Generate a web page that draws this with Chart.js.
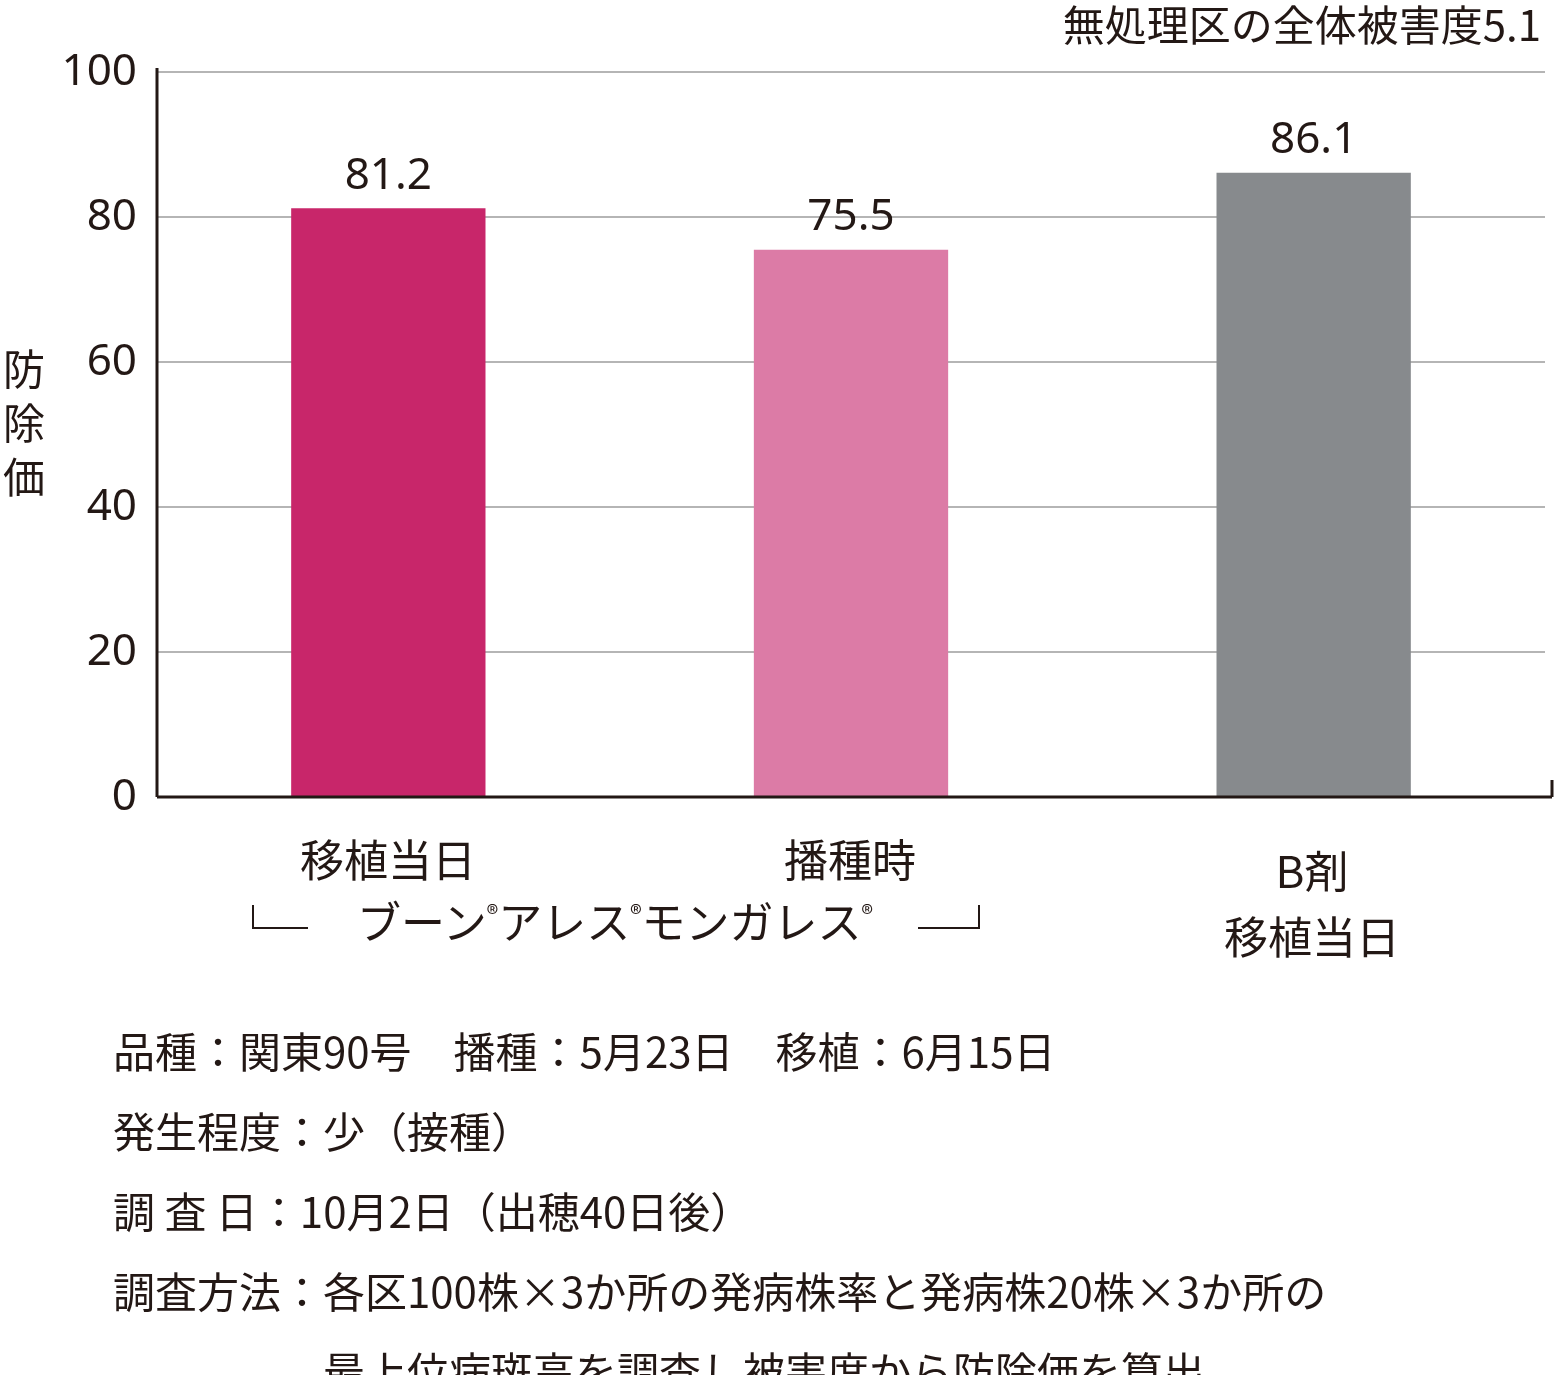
<!DOCTYPE html>
<html><head><meta charset="utf-8">
<script src="https://cdn.jsdelivr.net/npm/chart.js@4"></script>
<style>
body{margin:0;background:#fff;}
#w{position:relative;width:1555px;height:1375px;font-family:"Noto Sans CJK JP","Noto Sans",sans-serif;color:#231815;}
.t{position:absolute;white-space:nowrap;line-height:1;}
.c{transform:translateX(-50%);text-align:center;}
.ln{position:absolute;background:#231815;}
</style></head><body>
<div id="w">
<canvas id="c" width="1555" height="1375" style="position:absolute;left:0;top:0"></canvas>
<div class="t" style="right:14px;top:2px;font-size:42px;">無処理区の全体被害度5.1</div>
<div class="t" style="left:2px;top:340px;font-size:42px;width:44px;line-height:54px;text-align:center;">防<br>除<br>価</div>
<div class="t c" style="left:388px;top:836px;font-size:44px;">移植当日</div>
<div class="t c" style="left:850px;top:836px;font-size:44px;">播種時</div>
<div class="t c" style="left:1312px;top:836px;font-size:44px;line-height:66px;">B剤<br>移植当日</div>
<div class="ln" style="left:252px;top:905px;width:2px;height:24px"></div>
<div class="ln" style="left:252px;top:927px;width:56px;height:2px"></div>
<div class="t c" style="left:615px;top:898px;font-size:44px;">ブーン<sup style="font-size:24px">®</sup>アレス<sup style="font-size:24px">®</sup>モンガレス<sup style="font-size:24px">®</sup></div>
<div class="ln" style="left:918px;top:927px;width:62px;height:2px"></div>
<div class="ln" style="left:978px;top:905px;width:2px;height:24px"></div>
<div class="t" style="left:113px;top:1010px;font-size:42px;line-height:80px;">品種：関東90号　播種：5月23日　移植：6月15日<br>発生程度：少（接種）<br>調 査 日：10月2日（出穂40日後）<br>調査方法：各区100株×3か所の発病株率と発病株20株×3か所の<br>　　　　　最上位病斑高を調査し被害度から防除価を算出</div>
</div>
<script>
const categories=["移植当日","播種時","B剤 移植当日"];
const values=[81.2,75.5,86.1];
const colors=["#C8266A","#DC7BA6","#878A8D"];
const yTicks=[0,20,40,60,80,100];
const lbl={id:'lbl',afterDatasetsDraw(ch){const x=ch.ctx;const m=ch.getDatasetMeta(0);x.save();x.font='44px "Noto Sans","Liberation Sans",sans-serif';x.fillStyle='#231815';x.textAlign='center';x.textBaseline='bottom';m.data.forEach((b,i)=>x.fillText(values[i].toFixed(1),b.x,b.y-10));
const a=ch.chartArea;x.strokeStyle='#231815';x.lineWidth=3;x.beginPath();x.moveTo(a.left,a.bottom);x.lineTo(1552,a.bottom);x.moveTo(1552,a.bottom);x.lineTo(1552,780);x.moveTo(a.left,a.bottom);x.lineTo(a.left,68);x.stroke();x.restore();}};
new Chart(document.getElementById('c'),{type:'bar',data:{labels:categories,datasets:[{data:values,backgroundColor:colors,categoryPercentage:1,barPercentage:0.42}]},
options:{responsive:false,animation:false,events:[],layout:{padding:{top:72,right:10,bottom:578,left:0}},
plugins:{legend:{display:false},tooltip:{enabled:false}},
scales:{x:{ticks:{display:false},grid:{display:false},border:{display:false},afterFit:s=>{s.height=0;}},
y:{min:0,max:100,afterBuildTicks:s=>{s.ticks=yTicks.map(v=>({value:v}));},ticks:{color:'#231815',font:{size:44,family:'"Noto Sans","Liberation Sans",sans-serif'},padding:20},grid:{color:'#b5b5b5',lineWidth:2,drawTicks:false},border:{display:false},afterFit:s=>{s.width=157;}}}},
plugins:[lbl]});
</script></body></html>
